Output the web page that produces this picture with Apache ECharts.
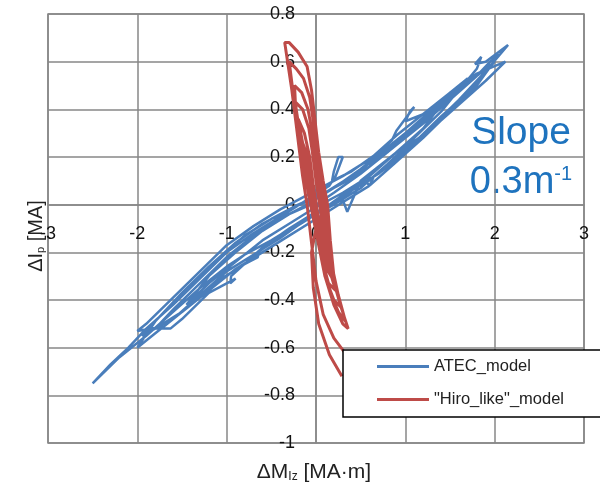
<!DOCTYPE html>
<html>
<head>
<meta charset="utf-8">
<script src="https://cdn.jsdelivr.net/npm/echarts@6/dist/echarts.min.js"></script>
<style>html,body{margin:0;padding:0;background:#fff}#c{width:600px;height:486px}</style>
</head>
<body>
<div id="c"></div>
<script>
var seriesNames = ['ATEC_model', '"Hiro_like"_model'];
var xTicks = { min: -3, max: 3, interval: 1 };
var yTicks = { min: -1, max: 0.8, interval: 0.2 };

var atecPoints = [
  [0.0,0.0],[0.2,0.05],[0.5,0.13],[0.8,0.22],[1.0,0.29],[1.3,0.38],[1.6,0.48],[1.8,0.57],[1.85,0.62],[1.78,0.59],[1.9,0.6],[2.15,0.67],
  [1.9,0.56],[1.6,0.44],[1.3,0.33],[1.0,0.22],[0.7,0.13],[0.4,0.06],[0.1,-0.02],[-0.2,-0.08],[-0.5,-0.15],[-0.8,-0.21],[-1.0,-0.26],[-1.3,-0.35],[-1.6,-0.45],[-1.9,-0.55],[-2.2,-0.64],[-2.5,-0.75],
  [-2.3,-0.67],[-2.1,-0.6],[-1.9,-0.52],[-1.6,-0.42],[-1.3,-0.31],[-1.0,-0.2],[-0.7,-0.12],[-0.4,-0.05],[-0.1,0.02],[0.15,0.08],[0.22,0.12],[0.3,0.2],[0.25,0.2],[0.2,0.14],[0.18,0.1],[0.4,0.14],[0.7,0.22],[0.85,0.27],[0.9,0.31],[1.0,0.36],[1.1,0.41],[1.05,0.39],[1.0,0.35],[1.2,0.38],[1.5,0.46],[1.8,0.55],[2.12,0.6],
  [1.9,0.52],[1.6,0.42],[1.3,0.32],[1.0,0.24],[0.8,0.17],[0.65,0.12],[0.6,0.08],[0.55,0.1],[0.3,0.04],[0.0,-0.04],[-0.3,-0.11],[-0.65,-0.2],[-0.65,-0.22],[-0.8,-0.25],[-1.1,-0.32],[-1.4,-0.42],[-1.7,-0.51],[-2.0,-0.53],
  [-1.9,-0.5],[-1.6,-0.39],[-1.3,-0.28],[-1.0,-0.17],[-0.7,-0.09],[-0.4,-0.02],[0.0,0.06],[0.3,0.12],[0.6,0.19],[0.9,0.29],[1.2,0.38],[1.5,0.47],[1.7,0.53],
  [1.4,0.39],[1.1,0.28],[0.8,0.19],[0.5,0.1],[0.35,-0.03],[0.3,0.02],[0.0,-0.03],[-0.3,-0.1],[-0.6,-0.18],[-0.95,-0.3],[-0.96,-0.33],[-0.9,-0.31],[-1.2,-0.37],[-1.5,-0.48],[-1.63,-0.52],[-1.8,-0.52],
  [-1.6,-0.44],[-1.3,-0.33],[-1.0,-0.22],[-0.7,-0.13],[-0.4,-0.06],[-0.1,0.0],[0.2,0.07],[0.5,0.15],[0.8,0.24],[1.1,0.33],[1.4,0.42],[1.7,0.51],[2.0,0.6],
  [1.7,0.47],[1.4,0.37],[1.1,0.26],[0.8,0.17],[0.5,0.07],[0.2,0.0],[-0.1,-0.06],[-0.4,-0.14],[-0.7,-0.21],[-1.0,-0.28],[-1.3,-0.38],[-1.6,-0.48],[-1.9,-0.57],[-2.0,-0.6],
  [-1.8,-0.49],[-1.5,-0.37],[-1.2,-0.26],[-0.9,-0.16],[-0.6,-0.08],[-0.3,-0.02],[0.0,0.03],[0.3,0.09],[0.6,0.16],[0.9,0.25],[1.2,0.34],[1.5,0.44],[1.8,0.54],[1.95,0.6],[2.05,0.63],
  [1.8,0.5],[1.5,0.39],[1.2,0.28],[0.9,0.18],[0.6,0.08],[0.3,0.01],[0.0,-0.06],[-0.3,-0.13],[-0.6,-0.2],[-0.9,-0.27],[-1.2,-0.36],[-1.5,-0.45],[-1.8,-0.52],[-1.95,-0.55],
  [-1.7,-0.45],[-1.4,-0.34],[-1.1,-0.23],[-0.8,-0.13],[-0.5,-0.06],[-0.2,0.0],[0.1,0.05],[0.4,0.12],[0.7,0.2],[1.0,0.3],[1.3,0.4],[1.5,0.47],
  [1.2,0.32],[0.9,0.22],[0.6,0.12],[0.3,0.05],[0.0,-0.01],[-0.3,-0.08],[-0.6,-0.15],[-0.9,-0.24],[-1.2,-0.33],[-1.45,-0.42],
  [-1.2,-0.3],[-0.9,-0.2],[-0.6,-0.11],[-0.3,-0.04],[0.0,0.01]
];

var hiroPoints = [
  [0.32,-0.62],[0.2,-0.56],[0.08,-0.46],[0.0,-0.32],[-0.05,-0.16],[-0.1,0.0],[-0.15,0.12],[-0.19,0.24],[-0.23,0.36],[-0.27,0.48],[-0.31,0.58],[-0.35,0.68],
  [-0.3,0.68],[-0.2,0.64],[-0.1,0.58],[-0.05,0.48],[-0.01,0.35],[0.03,0.22],[0.08,0.1],[0.13,0.0],[0.16,-0.15],[0.2,-0.3],[0.28,-0.43],[0.36,-0.52],
  [0.3,-0.5],[0.2,-0.42],[0.1,-0.3],[0.02,-0.15],[-0.06,0.0],[-0.12,0.12],[-0.17,0.25],[-0.22,0.38],[-0.26,0.48],[-0.3,0.6],
  [-0.22,0.57],[-0.14,0.53],[-0.07,0.45],[-0.03,0.35],[0.01,0.22],[0.06,0.1],[0.1,0.0],[0.13,-0.12],[0.18,-0.26],[0.25,-0.38],[0.33,-0.49],
  [0.25,-0.45],[0.15,-0.36],[0.07,-0.24],[0.0,-0.1],[-0.07,0.05],[-0.13,0.18],[-0.18,0.3],[-0.23,0.42],[-0.24,0.5],
  [-0.16,0.47],[-0.09,0.4],[-0.04,0.3],[0.0,0.18],[0.05,0.06],[0.09,-0.05],[0.12,-0.18],[0.18,-0.3],[0.28,-0.43],
  [0.2,-0.4],[0.1,-0.3],[0.03,-0.17],[-0.04,-0.02],[-0.1,0.12],[-0.16,0.26],[-0.21,0.36],[-0.23,0.43],
  [-0.15,0.4],[-0.08,0.32],[-0.04,0.22],[0.0,0.1],[0.05,-0.02],[0.09,-0.14],[0.14,-0.26],[0.22,-0.36],
  [0.14,-0.33],[0.06,-0.22],[0.0,-0.08],[-0.06,0.06],[-0.12,0.2],[-0.17,0.3],[-0.2,0.36],
  [-0.13,0.3],[-0.07,0.2],[-0.03,0.08],[0.02,-0.04],[0.06,-0.16],[0.12,-0.26],[0.2,-0.32],
  [0.12,-0.27],[0.05,-0.16],[-0.02,-0.02],[-0.08,0.12],[-0.14,0.24],[-0.19,0.3],
  [-0.11,0.22],[-0.05,0.1],[0.0,0.0],[0.05,-0.1],[0.1,-0.2],[0.16,-0.28],
  [0.08,-0.22],[0.01,-0.1],[-0.05,0.04],[-0.1,0.15],[-0.15,0.22],
  [-0.08,0.15],[-0.03,0.04],[0.03,-0.08],[0.07,-0.16],
  [0.0,-0.1],[-0.05,-0.2],[-0.03,-0.35],[0.03,-0.5],[0.15,-0.63],[0.29,-0.72]
];

var gridColor = '#878787';
var font = 'Liberation Sans';
var chart = echarts.init(document.getElementById('c'), null, { renderer: 'canvas' });
chart.setOption({
  animation: false,
  backgroundColor: '#ffffff',
  grid: { left: 48, right: 16, top: 14, bottom: 43, show: true, borderColor: gridColor, borderWidth: 1.5, containLabel: false },
  xAxis: {
    type: 'value', min: xTicks.min, max: xTicks.max, interval: xTicks.interval,
    position: 'bottom', offset: -238.3,
    axisLine: { onZero: false, lineStyle: { color: gridColor, width: 1.5 } },
    axisTick: { show: false },
    axisLabel: { color: '#111', fontSize: 18, fontFamily: font, margin: 20 },
    splitLine: { show: true, lineStyle: { color: gridColor, width: 1.5 } }
  },
  yAxis: {
    type: 'value', min: yTicks.min, max: yTicks.max, interval: yTicks.interval,
    position: 'left', offset: -268,
    axisLine: { onZero: false, lineStyle: { color: gridColor, width: 1.5 } },
    axisTick: { show: false },
    axisLabel: { color: '#111', fontSize: 18, fontFamily: font, margin: 21 },
    splitLine: { show: true, lineStyle: { color: gridColor, width: 1.5 } }
  },
  legend: {
    orient: 'vertical', left: 343, top: 350,
    backgroundColor: '#ffffff', borderColor: '#000', borderWidth: 1.5,
    padding: [8, 40, 9, 34], itemWidth: 52, itemHeight: 3, itemGap: 16,
    icon: 'rect',
    textStyle: { fontSize: 16.5, fontFamily: font, color: '#222' },
    data: seriesNames
  },
  series: [
    { name: seriesNames[0], type: 'line', data: atecPoints, showSymbol: false, symbol: 'none',
      lineStyle: { color: '#4A7EBB', width: 2.5 }, itemStyle: { color: '#4A7EBB' } },
    { name: seriesNames[1], type: 'line', data: hiroPoints, showSymbol: false, symbol: 'none',
      lineStyle: { color: '#BE4B48', width: 3 }, itemStyle: { color: '#BE4B48' } }
  ],
  graphic: [
    { type: 'text', x: 314, y: 472, style: {
        text: '{n|ΔM}{s|Iz}{n| [MA·m]}', align: 'center', verticalAlign: 'middle',
        rich: { n: { fontSize: 21, fontFamily: font, fill: '#222', verticalAlign: 'bottom' },
                s: { fontSize: 12, fontFamily: font, fill: '#222', verticalAlign: 'bottom' } } } },
    { type: 'text', x: 36, y: 236, rotation: Math.PI / 2, style: {
        text: '{n|ΔI}{s|p}{n| [MA]}', align: 'center', verticalAlign: 'middle',
        rich: { n: { fontSize: 20, fontFamily: font, fill: '#222', verticalAlign: 'bottom' },
                s: { fontSize: 11, fontFamily: font, fill: '#222', verticalAlign: 'bottom' } } } },
    { type: 'text', x: 521, y: 133, style: { text: 'Slope', align: 'center', verticalAlign: 'middle',
        fontSize: 39, fontFamily: font, fill: '#1E73BE' } },
    { type: 'text', x: 521, y: 183, style: {
        text: '{a|0.3m}{b|-1}', align: 'center', verticalAlign: 'middle',
        rich: { a: { fontSize: 38, fontFamily: font, fill: '#1E73BE', verticalAlign: 'top' },
                b: { fontSize: 20, fontFamily: font, fill: '#1E73BE', verticalAlign: 'top' } } } }
  ]
});
</script>
</body>
</html>
